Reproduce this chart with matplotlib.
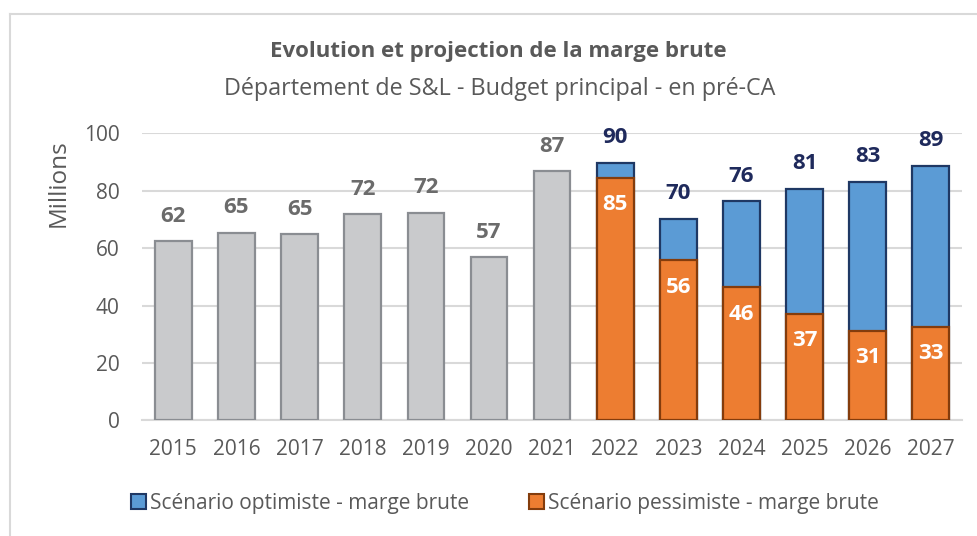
import numpy as np
import matplotlib
matplotlib.use('Agg')
import matplotlib.pyplot as plt
from matplotlib.lines import Line2D

plt.rcParams['font.family'] = ['Open Sans', 'DejaVu Sans']

# Marge brute réalisée (millions d'euros)
years_hist = ['2015', '2016', '2017', '2018', '2019', '2020', '2021']
marge_hist = [62.4, 65.4, 64.8, 71.9, 72.3, 56.8, 86.8]

# Projections 2022-2027
years_proj = ['2022', '2023', '2024', '2025', '2026', '2027']
marge_opt = [89.8, 70.2, 76.4, 80.7, 83.1, 88.7]
marge_pess = [84.6, 55.9, 46.4, 37.2, 31.2, 32.7]

years = years_hist + years_proj

grey_fill, grey_edge = '#C9CACC', '#8A8D92'
blue_fill, blue_edge = '#5B9BD5', '#1F3864'
orange_fill, orange_edge = '#ED7D31', '#843C0C'
text_grey = '#595959'

fig = plt.figure(figsize=(9.78, 5.36), dpi=100)
ax = fig.add_axes([0.145, 0.2155, 0.839, 0.5358])

x_hist = np.arange(len(years_hist))
x_proj = np.arange(len(years_hist), len(years))
w = 0.58

ax.bar(x_hist, marge_hist, w, color=grey_fill, edgecolor=grey_edge, linewidth=1.6, zorder=3)
ax.bar(x_proj, marge_opt, w, color=blue_fill, edgecolor=blue_edge, linewidth=1.6, zorder=3)
ax.bar(x_proj, marge_pess, w, color=orange_fill, edgecolor=orange_edge, linewidth=1.6, zorder=4)

lab_size = 16
for xi, v in zip(x_hist, marge_hist):
    ax.annotate(f'{v:.0f}', (xi, v), xytext=(0, 18), textcoords='offset points',
                ha='center', va='center', fontsize=lab_size, fontweight='bold', color='#6B6B6B')
for xi, v in zip(x_proj, marge_opt):
    ax.annotate(f'{v:.0f}', (xi, v), xytext=(0, 18), textcoords='offset points',
                ha='center', va='center', fontsize=lab_size, fontweight='bold', color='#1F2A5C')
for xi, v in zip(x_proj, marge_pess):
    ax.annotate(f'{v:.0f}', (xi, v), xytext=(0, -19.5), textcoords='offset points',
                ha='center', va='center', fontsize=lab_size, fontweight='bold', color='white', zorder=5)

ax.set_xlim(-0.5, len(years) - 0.5)
ax.set_ylim(0, 100)
ax.set_yticks(np.arange(0, 101, 20))
ax.set_xticks(np.arange(len(years)))
ax.set_xticklabels(years)
ax.tick_params(axis='both', length=0, labelsize=15, colors=text_grey)
ax.tick_params(axis='y', pad=16)
ax.tick_params(axis='x', pad=13)
ax.grid(axis='y', color='#D9D9D9', linewidth=1.5, zorder=0)
for side in ['top', 'right', 'left']:
    ax.spines[side].set_visible(False)
ax.spines['bottom'].set_color('#D9D9D9')
ax.spines['bottom'].set_linewidth(1.5)

ax.set_ylabel('Millions', fontsize=17.5, color=text_grey)
ax.yaxis.set_label_coords(-0.087, 0.827)

fig.text(0.51, 1 - 52 / 536, 'Evolution et projection de la marge brute',
         ha='center', va='center', fontsize=16, fontweight='bold', color=text_grey)
fig.text(0.511, 1 - 89 / 536, 'Département de S&L - Budget principal - en pré-CA',
         ha='center', va='center', fontsize=16.8, color=text_grey)

handles = [
    plt.Rectangle((0, 0), 1, 1, facecolor=blue_fill, edgecolor=blue_edge, linewidth=1.5),
    plt.Rectangle((0, 0), 1, 1, facecolor=orange_fill, edgecolor=orange_edge, linewidth=1.5),
]
fig.legend(handles, ['Scénario optimiste - marge brute', 'Scénario pessimiste - marge brute'],
           loc='center', bbox_to_anchor=(505 / 978, 1 - 503 / 536), ncol=2, frameon=False,
           fontsize=15, labelcolor=text_grey, handlelength=0.7, handleheight=0.7,
           handletextpad=0.2, columnspacing=2.9)

# cadre du graphique
fig.add_artist(Line2D([10 / 978, 1.0], [1 - 14 / 536] * 2, color='#D9D9D9', linewidth=1.5))
fig.add_artist(Line2D([10 / 978] * 2, [0, 1 - 14 / 536], color='#D9D9D9', linewidth=1.5))

fig.savefig('out.png', dpi=100)
